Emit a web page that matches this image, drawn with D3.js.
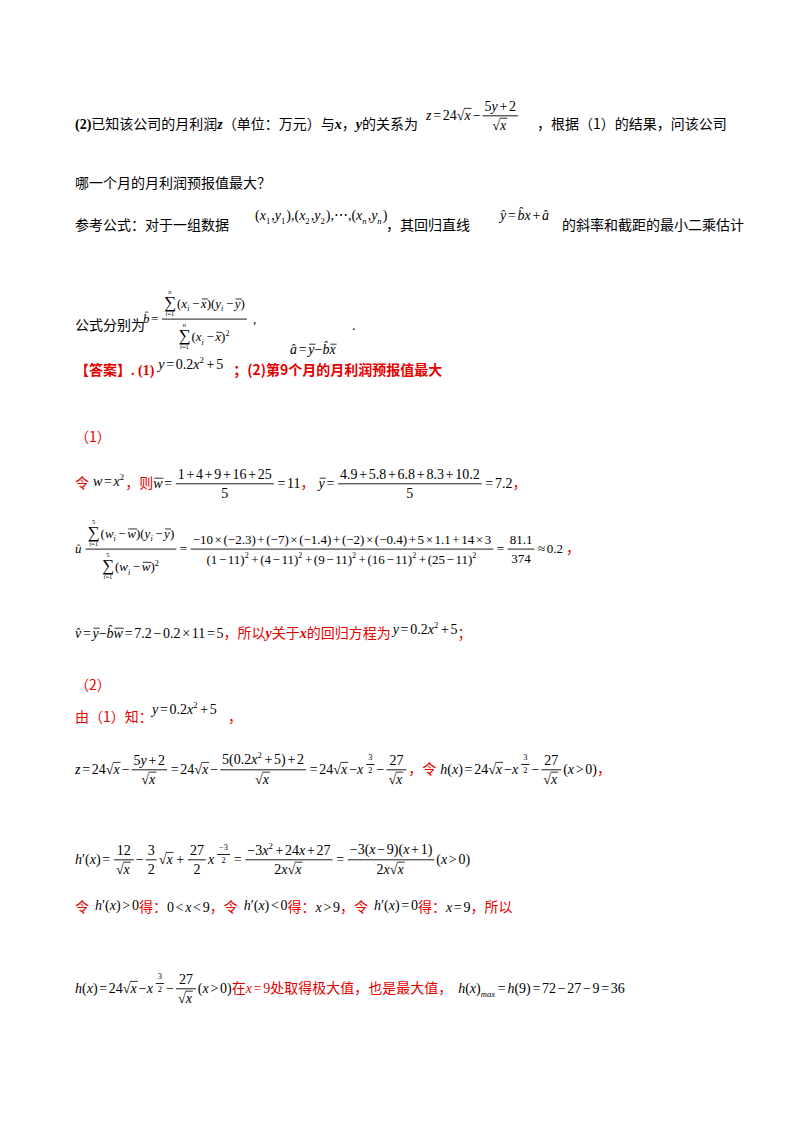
<!DOCTYPE html>
<html><head><meta charset="utf-8">
<script src="https://cdn.jsdelivr.net/npm/d3@7"></script>
<style>body{margin:0;background:#fff}</style></head>
<body><script>
// data
const ws=[1,4,9,16,25];
const ys=[4.9,5.8,6.8,8.3,10.2];
const wDev=[-10,-7,-2,5,14];
const yDev=[-2.3,-1.4,-0.4,1.1,3];
const wMean=11, yMean=7.2, num=81.1, den=374;

const SERIF="'Liberation Serif','Times New Roman',serif";
const CJK="'Noto Sans CJK SC','Noto Sans',sans-serif";
const RED="#e60000";
const svg=d3.select('body').append('svg').attr('width',800).attr('height',1132);

function txt(g,x,y,s,o){
  const t=g.append('text').attr('x',x).attr('y',y).text(s)
   .attr('font-family',o.cjk?CJK:SERIF).attr('font-size',o.size)
   .attr('font-style',o.it?'italic':'normal').attr('fill',o.color||'#000')
   .attr('font-weight',o.bold?'bold':'normal').style('white-space','pre');
  return t.node().getComputedTextLength();
}
const node=n=>typeof n==='string'?S(n):n;
const OPS='=+−<>≈×';
function S(s,opt={}){return (g,sz,c)=>{let x=0,i=0,buf='',bi=null;
  const flush=()=>{if(buf){x+=txt(g,x,0,buf,{size:sz,it:bi,color:c,bold:opt.bold});buf='';}};
  while(i<s.length){const ch=s[i];
    if(ch==='^'||ch==='_'){flush();let a;
      if(s[i+1]==='{'){const j=s.indexOf('}',i);a=s.slice(i+2,j);i=j+1;}else{a=s[i+1];i+=2;}
      const sg=g.append('g').attr('transform',`translate(${x},${ch==='^'?-sz*0.42:sz*0.25})`);
      x+=S(a)(sg,sz*0.62,c)+1;continue;}
    const it=/[a-zA-Z]/.test(ch);if(bi!==it){flush();bi=it;}
    if(OPS.includes(ch)&&sz>11&&!(ch==='−'&&(i===0||'(^'.includes(s[i-1])))){flush();x+=sz*0.12;buf=ch;bi=false;flush();x+=sz*0.12;i++;continue;}
    buf+=ch;i++;}
  flush();return x;};}
function H(...items){return (g,sz,c)=>{let x=0;for(const it of items){const sg=g.append('g').attr('transform',`translate(${x},0)`);x+=node(it)(sg,sz,c);}return x;};}
function C(s,o={}){return (g,sz,c)=>txt(g,0,0,s,{size:o.size||14,cjk:true,color:o.color||c,bold:o.bold});}
function Col(color,n){return (g,sz)=>node(n)(g,sz,color);}
function Sp(w){return ()=>w;}
function Sz(k,n){return (g,sz,c)=>node(n)(g,sz*k,c);}
function Frac(a,b){return (g,sz,c)=>{const A=g.append('g'),B=g.append('g');
  const wa=node(a)(A,sz,c),wb=node(b)(B,sz,c);const w=Math.max(wa,wb)+4;
  const ba=A.node().getBBox(),bb=B.node().getBBox();const ly=-sz*0.3;
  A.attr('transform',`translate(${2+(w-wa)/2},${ly-2-(ba.y+ba.height)})`);
  B.attr('transform',`translate(${2+(w-wb)/2},${ly+2-bb.y})`);
  g.append('line').attr('x1',2).attr('x2',w+2).attr('y1',ly).attr('y2',ly).attr('stroke',c).attr('stroke-width',0.9);
  return w+4;};}
function Sqrt(n){return (g,sz,c)=>{const w0=txt(g,0,0,'√',{size:sz,color:c});
  const sg=g.append('g').attr('transform',`translate(${w0},0)`);const w1=node(n)(sg,sz,c);
  g.append('line').attr('x1',w0-0.5).attr('x2',w0+w1+1).attr('y1',-sz*0.83).attr('y2',-sz*0.83).attr('stroke',c).attr('stroke-width',0.8);
  return w0+w1+2;};}
function Hat(s){return (g,sz,c)=>{const w=S(s)(g,sz,c);const tall='bdfhklt'.includes(s);
  txt(g,w/2-sz*0.12,tall?-sz*0.28:-sz*0.05,'ˆ',{size:sz*0.85,color:c});return w;};}
function Bar(s){return (g,sz,c)=>{const w=S(s)(g,sz,c);g.append('line').attr('x1',1).attr('x2',w+1).attr('y1',-sz*0.7).attr('y2',-sz*0.7).attr('stroke',c).attr('stroke-width',0.8);return w;};}
function Sum(top,bot){return (g,sz,c)=>{const tg=g.append('g');const wS=txt(tg,0,0,'∑',{size:sz*1.3,color:c});
  const a=g.append('g'),b=g.append('g');const wt=S(top)(a,sz*0.5,c),wb=S(bot)(b,sz*0.5,c);
  const W=Math.max(wS,wt,wb);tg.attr('transform',`translate(${(W-wS)/2},0)`);
  a.attr('transform',`translate(${(W-wt)/2},${-sz*1.1})`);b.attr('transform',`translate(${(W-wb)/2},${sz*0.62})`);return W+1;};}
function row(x,y,sz,color,...items){const g=svg.append('g').attr('transform',`translate(${x},${y})`);return H(...items)(g,sz,color);}
function Up(dy,n){return (g,sz,c)=>{const sg=g.append('g').attr('transform',`translate(0,${dy})`);return node(n)(sg,sz,c);};}
const xPow=H('x',(g,sz,c)=>{const sg=g.append('g').attr('transform',`translate(1,${-sz*0.5})`);return Sz(0.6,Frac('3','2'))(sg,sz,c)+1;});
const xPowN=H('x',(g,sz,c)=>{const sg=g.append('g').attr('transform',`translate(1,${-sz*0.5})`);return Sz(0.6,Frac('−3','2'))(sg,sz,c)+1;});

// line 1
row(75,129,14,'#000',S('(2)',{bold:true}),C('已知该公司的月利润'),S('z',{bold:true}),C('（单位：万元）与'),S('x',{bold:true}),C('，'),S('y',{bold:true}),C('的关系为'));
row(426,120,14,'#000','z=24',Sqrt('x'),'−',Frac('5y+2',Sqrt('x')));
row(537,129,14,'#000',C('，根据（1）的结果，问该公司'));
row(75,188,14,'#000',C('哪一个月的月利润预报值最大？'));
row(75,230,14,'#000',C('参考公式：对于一组数据'));
row(255,220,14,'#000','(x_1,y_1),(x_2,y_2),⋯,(x_n,y_n)');
row(386,230,14,'#000',C('，其回归直线'));
row(500,220,14,'#000',Hat('y'),'=',Hat('b'),'x+',Hat('a'));
row(562,230,14,'#000',C('的斜率和截距的最小二乘估计'));
row(75,330,14,'#000',C('公式分别为'));
row(143,323,13,'#000',Hat('b'),'=',Frac(H(Sum('n','i=1'),'(x_i−',Bar('x'),')(y_i−',Bar('y'),')'),H(Sum('n','i=1'),'(x_i−',Bar('x'),')^2')),Sp(4),',');
row(290,354,14,'#000',Hat('a'),'=',Bar('y'),'−',Hat('b'),Bar('x'));
row(352,330,14,'#000','.');
// answer
row(75,375,14,RED,C('【答案】',{bold:true}),S('. (1)',{bold:true}),Sp(4),Col('#000',Up(-6,'y=0.2x^2+5')),Sp(10),C('；(2)第9个月的月利润预报值最大',{bold:true}));
row(75,442,14,RED,C('（1）'));
row(75,488,14,RED,C('令'),Sp(4),Col('#000',Up(-2,'w=x^2')),C('，则'),Col('#000',H(Bar('w'),'=',Frac(ws.join('+'),'5'),'=11')),C('，'),Sp(4),Col('#000',H(Bar('y'),'=',Frac(ys.join('+'),'5'),'='+yMean)),C('，'));
const numStr=wDev.map((d,i)=>{const a=d<0?(i===0?'−'+(-d):'(−'+(-d)+')'):''+d;const b=yDev[i]<0?'(−'+(-yDev[i])+')':''+yDev[i];return a+'×'+b;}).join('+');
const denStr=ws.map(w=>'('+w+'−11)^2').join('+');
row(75,553,13,'#000',Hat('u'),Sp(2),Frac(H(Sum('5','i=1'),'(w_i−',Bar('w'),')(y_i−',Bar('y'),')'),H(Sum('5','i=1'),'(w_i−',Bar('w'),')^2')),'=',Frac(numStr,denStr),'=',Frac(''+num,''+den),'≈0.2',Col(RED,C(' ，')));
row(75,638,14,'#000',Hat('v'),'=',Bar('y'),'−',Hat('b'),Bar('w'),'=7.2−0.2×11=5',Col(RED,H(C('，所以'),S('y',{bold:true}),C('关于'),S('x',{bold:true}),C('的回归方程为'))),Sp(2),Up(-4,'y=0.2x^2+5'),Col(RED,C('；')));
row(75,690,14,RED,C('（2）'));
row(75,722,14,RED,C('由（1）知：'));
row(152,714,14,'#000','y=0.2x^2+5');
row(228,722,14,RED,C('，'));
row(75,774,14,'#000','z=24',Sqrt('x'),'−',Frac('5y+2',Sqrt('x')),'=24',Sqrt('x'),'−',Frac('5(0.2x^2+5)+2',Sqrt('x')),'=24',Sqrt('x'),'−',xPow,'−',Frac('27',Sqrt('x')),Col(RED,C('，令')),Sp(4),'h(x)=24',Sqrt('x'),'−',xPow,'−',Frac('27',Sqrt('x')),'(x>0)',Col(RED,C('，')));
row(75,864,14,'#000',"h′(x)=",Frac('12',Sqrt('x')),'−',Frac('3','2'),Sqrt('x'),'+',Frac('27','2'),xPowN,'=',Frac('−3x^2+24x+27',H('2x',Sqrt('x'))),'=',Frac('−3(x−9)(x+1)',H('2x',Sqrt('x'))),'(x>0)');
row(75,912,14,RED,C('令'),Sp(6),Col('#000',Up(-2,"h′(x)>0")),C('得：'),Col('#000','0<x<9'),C('，令'),Sp(6),Col('#000',Up(-2,"h′(x)<0")),C('得：'),Col('#000','x>9'),C('，令'),Sp(6),Col('#000',Up(-2,"h′(x)=0")),C('得：'),Col('#000','x=9'),C('，所以'));
row(75,993,14,'#000','h(x)=24',Sqrt('x'),'−',xPow,'−',Frac('27',Sqrt('x')),'(x>0)',Col(RED,H(C('在'),'x=9',C('处取得极大值，也是最大值，'))),Sp(6),'h(x)_{max}=h(9)=72−27−9=36');
</script></body></html>
